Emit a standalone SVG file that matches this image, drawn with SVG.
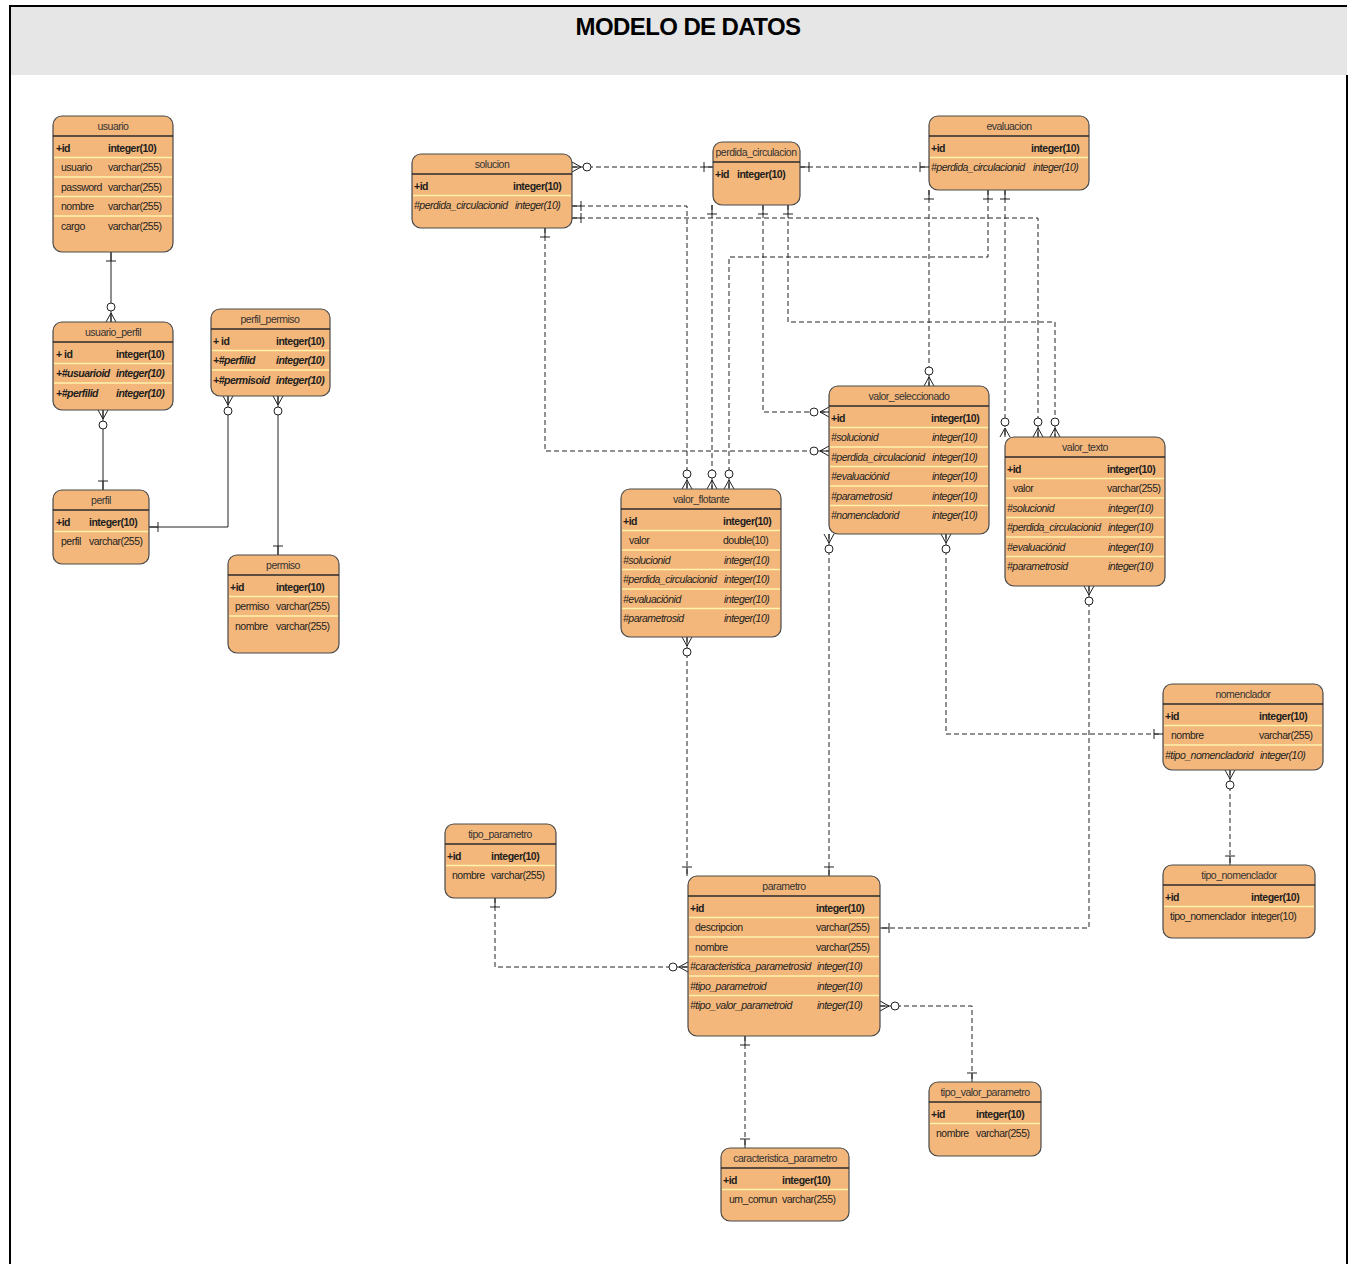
<svg xmlns="http://www.w3.org/2000/svg" width="1353" height="1264" viewBox="0 0 1353 1264">
<style>
.box{fill:#f3b77b;stroke:#4a4a4a;stroke-width:1.2}
.hl{stroke:#2a2a2a;stroke-width:1.5}
.sep{stroke:#fff3ad;stroke-width:1.5}
.t{font-family:"Liberation Sans",Arial,sans-serif;font-size:10.5px;fill:#1e1e1e;letter-spacing:-0.5px}
.h{text-anchor:middle;fill:#333}
.b{font-weight:bold}
.i{font-style:italic}
.c{fill:none;stroke:#222;stroke-width:1}
.d{stroke-dasharray:5,3}
.mk{fill:none;stroke:#222;stroke-width:1;stroke-dasharray:none}
</style>
<defs>
<marker id="many0" markerUnits="userSpaceOnUse" orient="auto-start-reverse" refX="0" refY="0" markerWidth="30" markerHeight="20" overflow="visible">
<path class="mk" d="M-9,0 L0,-5 M-9,0 L0,5 M-9,0 L0,0"/>
<circle cx="-15" cy="0" r="4" fill="#fff" stroke="#222" stroke-width="1"/>
</marker>
<marker id="one" markerUnits="userSpaceOnUse" orient="auto-start-reverse" refX="0" refY="0" markerWidth="30" markerHeight="20" overflow="visible">
<path class="mk" d="M-9,-5 L-9,5 M-9,0 L0,0"/>
</marker>
</defs>
<rect x="0" y="0" width="1353" height="1264" fill="#fff"/>
<g id="frame">
<rect x="10" y="6" width="1337" height="69" fill="#e6e6e6"/>
<path d="M9,6 H1347 M10,6 V1264 M1347,75 V1264" stroke="#000" stroke-width="2" fill="none"/>
<text x="688" y="35" text-anchor="middle" style="font-family:'Liberation Sans',Arial,sans-serif;font-size:24px;font-weight:bold;letter-spacing:-0.6px" fill="#000">MODELO DE DATOS</text>
</g>
<g id="connectors">
<path class="c" d="M111,252 V322" marker-start="url(#one)" marker-end="url(#many0)"/>
<path class="c" d="M103,410 V490" marker-start="url(#many0)" marker-end="url(#one)"/>
<path class="c" d="M149,527 H228 V396" marker-start="url(#one)" marker-end="url(#many0)"/>
<path class="c" d="M278,396 V555" marker-start="url(#many0)" marker-end="url(#one)"/>
<path class="c d" d="M572,167 H713" marker-start="url(#many0)" marker-end="url(#one)"/>
<path class="c d" d="M800,167 H929" marker-start="url(#one)" marker-end="url(#one)"/>
<path class="c d" d="M572,206 H687 V489" marker-start="url(#one)" marker-end="url(#many0)"/>
<path class="c d" d="M572,218 H1038 V437" marker-start="url(#one)" marker-end="url(#many0)"/>
<path class="c d" d="M712,205 V489" marker-start="url(#one)" marker-end="url(#many0)"/>
<path class="c d" d="M763,205 V412 H829" marker-start="url(#one)" marker-end="url(#many0)"/>
<path class="c d" d="M788,205 V322 H1055 V437" marker-start="url(#one)" marker-end="url(#many0)"/>
<path class="c d" d="M929,190 V386" marker-start="url(#one)" marker-end="url(#many0)"/>
<path class="c d" d="M988,190 V257 H729 V489" marker-start="url(#one)" marker-end="url(#many0)"/>
<path class="c d" d="M1005,190 V437" marker-start="url(#one)" marker-end="url(#many0)"/>
<path class="c d" d="M545,228 V451 H829" marker-start="url(#one)" marker-end="url(#many0)"/>
<path class="c d" d="M687,637 V876" marker-start="url(#many0)" marker-end="url(#one)"/>
<path class="c d" d="M829,534 V876" marker-start="url(#many0)" marker-end="url(#one)"/>
<path class="c d" d="M946,534 V734 H1163" marker-start="url(#many0)" marker-end="url(#one)"/>
<path class="c d" d="M1089,586 V928 H880" marker-start="url(#many0)" marker-end="url(#one)"/>
<path class="c d" d="M1230,770 V865" marker-start="url(#many0)" marker-end="url(#one)"/>
<path class="c d" d="M495,898 V967 H688" marker-start="url(#one)" marker-end="url(#many0)"/>
<path class="c d" d="M880,1006 H972 V1082" marker-start="url(#many0)" marker-end="url(#one)"/>
<path class="c d" d="M745,1036 V1148" marker-start="url(#one)" marker-end="url(#one)"/>
</g>

<g id="usuario">
<rect class="box" x="53" y="116" width="120" height="136" rx="9"/>
<line class="hl" x1="53" y1="136" x2="173" y2="136"/>
<path class="sep" d="M54,157.5 H172 M54,177 H172 M54,196.5 H172 M54,216 H172"/>
<text class="t h" x="113" y="130">usuario</text>
<text class="t b" x="56" y="151.5">+id</text><text class="t b" x="108" y="151.5">integer(10)</text>
<text class="t" x="61" y="171">usuario</text><text class="t" x="108" y="171">varchar(255)</text>
<text class="t" x="61" y="190.5">password</text><text class="t" x="108" y="190.5">varchar(255)</text>
<text class="t" x="61" y="210">nombre</text><text class="t" x="108" y="210">varchar(255)</text>
<text class="t" x="61" y="229.5">cargo</text><text class="t" x="108" y="229.5">varchar(255)</text>
</g>

<g id="usuario_perfil">
<rect class="box" x="53" y="322" width="120" height="88" rx="9"/>
<line class="hl" x1="53" y1="342" x2="173" y2="342"/>
<path class="sep" d="M54,363.5 H172 M54,383 H172"/>
<text class="t h" x="113" y="336">usuario_perfil</text>
<text class="t b" x="56" y="357.5">+ id</text><text class="t b" x="116" y="357.5">integer(10)</text>
<text class="t b i" x="56" y="377">+#usuarioid</text><text class="t b i" x="116" y="377">integer(10)</text>
<text class="t b i" x="56" y="396.5">+#perfilid</text><text class="t b i" x="116" y="396.5">integer(10)</text>
</g>

<g id="perfil_permiso">
<rect class="box" x="211" y="309" width="119" height="87" rx="9"/>
<line class="hl" x1="211" y1="329" x2="330" y2="329"/>
<path class="sep" d="M212,350.5 H329 M212,370 H329"/>
<text class="t h" x="270" y="323">perfil_permiso</text>
<text class="t b" x="213" y="344.5">+ id</text><text class="t b" x="276" y="344.5">integer(10)</text>
<text class="t b i" x="213" y="364">+#perfilid</text><text class="t b i" x="276" y="364">integer(10)</text>
<text class="t b i" x="213" y="383.5">+#permisoid</text><text class="t b i" x="276" y="383.5">integer(10)</text>
</g>

<g id="perfil">
<rect class="box" x="53" y="490" width="96" height="74" rx="9"/>
<line class="hl" x1="53" y1="510" x2="149" y2="510"/>
<path class="sep" d="M54,531.5 H148"/>
<text class="t h" x="101" y="504">perfil</text>
<text class="t b" x="56" y="525.5">+id</text><text class="t b" x="89" y="525.5">integer(10)</text>
<text class="t" x="61" y="545">perfil</text><text class="t" x="89" y="545">varchar(255)</text>
</g>

<g id="permiso">
<rect class="box" x="228" y="555" width="111" height="98" rx="9"/>
<line class="hl" x1="228" y1="575" x2="339" y2="575"/>
<path class="sep" d="M229,596.5 H338 M229,616 H338"/>
<text class="t h" x="283" y="569">permiso</text>
<text class="t b" x="230" y="590.5">+id</text><text class="t b" x="276" y="590.5">integer(10)</text>
<text class="t" x="235" y="610">permiso</text><text class="t" x="276" y="610">varchar(255)</text>
<text class="t" x="235" y="629.5">nombre</text><text class="t" x="276" y="629.5">varchar(255)</text>
</g>

<g id="solucion">
<rect class="box" x="412" y="154" width="160" height="74" rx="9"/>
<line class="hl" x1="412" y1="174" x2="572" y2="174"/>
<path class="sep" d="M413,195.5 H571"/>
<text class="t h" x="492" y="168">solucion</text>
<text class="t b" x="414" y="189.5">+id</text><text class="t b" x="513" y="189.5">integer(10)</text>
<text class="t i" x="414" y="209">#perdida_circulacionid</text><text class="t i" x="515" y="209">integer(10)</text>
</g>

<g id="perdida_circulacion">
<rect class="box" x="713" y="142" width="87" height="63" rx="9"/>
<line class="hl" x1="713" y1="162" x2="800" y2="162"/>
<text class="t h" x="756" y="156">perdida_circulacion</text>
<text class="t b" x="715" y="177.5">+id</text><text class="t b" x="737" y="177.5">integer(10)</text>
</g>

<g id="evaluacion">
<rect class="box" x="929" y="116" width="160" height="74" rx="9"/>
<line class="hl" x1="929" y1="136" x2="1089" y2="136"/>
<path class="sep" d="M930,157.5 H1088"/>
<text class="t h" x="1009" y="130">evaluacion</text>
<text class="t b" x="931" y="151.5">+id</text><text class="t b" x="1031" y="151.5">integer(10)</text>
<text class="t i" x="931" y="171">#perdida_circulacionid</text><text class="t i" x="1033" y="171">integer(10)</text>
</g>

<g id="valor_seleccionado">
<rect class="box" x="829" y="386" width="160" height="148" rx="9"/>
<line class="hl" x1="829" y1="406" x2="989" y2="406"/>
<path class="sep" d="M830,427.5 H988 M830,447 H988 M830,466.5 H988 M830,486 H988 M830,505.5 H988"/>
<text class="t h" x="909" y="400">valor_seleccionado</text>
<text class="t b" x="831" y="421.5">+id</text><text class="t b" x="931" y="421.5">integer(10)</text>
<text class="t i" x="831" y="441">#solucionid</text><text class="t i" x="932" y="441">integer(10)</text>
<text class="t i" x="831" y="460.5">#perdida_circulacionid</text><text class="t i" x="932" y="460.5">integer(10)</text>
<text class="t i" x="831" y="480">#evaluaciónid</text><text class="t i" x="932" y="480">integer(10)</text>
<text class="t i" x="831" y="499.5">#parametrosid</text><text class="t i" x="932" y="499.5">integer(10)</text>
<text class="t i" x="831" y="519">#nomencladorid</text><text class="t i" x="932" y="519">integer(10)</text>
</g>

<g id="valor_texto">
<rect class="box" x="1005" y="437" width="160" height="149" rx="9"/>
<line class="hl" x1="1005" y1="457" x2="1165" y2="457"/>
<path class="sep" d="M1006,478.5 H1164 M1006,498 H1164 M1006,517.5 H1164 M1006,537 H1164 M1006,556.5 H1164"/>
<text class="t h" x="1085" y="451">valor_texto</text>
<text class="t b" x="1007" y="472.5">+id</text><text class="t b" x="1107" y="472.5">integer(10)</text>
<text class="t" x="1013" y="492">valor</text><text class="t" x="1107" y="492">varchar(255)</text>
<text class="t i" x="1007" y="511.5">#solucionid</text><text class="t i" x="1108" y="511.5">integer(10)</text>
<text class="t i" x="1007" y="531">#perdida_circulacionid</text><text class="t i" x="1108" y="531">integer(10)</text>
<text class="t i" x="1007" y="550.5">#evaluaciónid</text><text class="t i" x="1108" y="550.5">integer(10)</text>
<text class="t i" x="1007" y="570">#parametrosid</text><text class="t i" x="1108" y="570">integer(10)</text>
</g>

<g id="valor_flotante">
<rect class="box" x="621" y="489" width="160" height="148" rx="9"/>
<line class="hl" x1="621" y1="509" x2="781" y2="509"/>
<path class="sep" d="M622,530.5 H780 M622,550 H780 M622,569.5 H780 M622,589 H780 M622,608.5 H780"/>
<text class="t h" x="701" y="503">valor_flotante</text>
<text class="t b" x="623" y="524.5">+id</text><text class="t b" x="723" y="524.5">integer(10)</text>
<text class="t" x="629" y="544">valor</text><text class="t" x="723" y="544">double(10)</text>
<text class="t i" x="623" y="563.5">#solucionid</text><text class="t i" x="724" y="563.5">integer(10)</text>
<text class="t i" x="623" y="583">#perdida_circulacionid</text><text class="t i" x="724" y="583">integer(10)</text>
<text class="t i" x="623" y="602.5">#evaluaciónid</text><text class="t i" x="724" y="602.5">integer(10)</text>
<text class="t i" x="623" y="622">#parametrosid</text><text class="t i" x="724" y="622">integer(10)</text>
</g>

<g id="nomenclador">
<rect class="box" x="1163" y="684" width="160" height="86" rx="9"/>
<line class="hl" x1="1163" y1="704" x2="1323" y2="704"/>
<path class="sep" d="M1164,725.5 H1322 M1164,745 H1322"/>
<text class="t h" x="1243" y="698">nomenclador</text>
<text class="t b" x="1165" y="719.5">+id</text><text class="t b" x="1259" y="719.5">integer(10)</text>
<text class="t" x="1171" y="739">nombre</text><text class="t" x="1259" y="739">varchar(255)</text>
<text class="t i" x="1165" y="758.5">#tipo_nomencladorid</text><text class="t i" x="1260" y="758.5">integer(10)</text>
</g>

<g id="tipo_nomenclador">
<rect class="box" x="1163" y="865" width="152" height="73" rx="9"/>
<line class="hl" x1="1163" y1="885" x2="1315" y2="885"/>
<path class="sep" d="M1164,906.5 H1314"/>
<text class="t h" x="1239" y="879">tipo_nomenclador</text>
<text class="t b" x="1165" y="900.5">+id</text><text class="t b" x="1251" y="900.5">integer(10)</text>
<text class="t" x="1170" y="920">tipo_nomenclador</text><text class="t" x="1251" y="920">integer(10)</text>
</g>

<g id="tipo_parametro">
<rect class="box" x="445" y="824" width="111" height="74" rx="9"/>
<line class="hl" x1="445" y1="844" x2="556" y2="844"/>
<path class="sep" d="M446,865.5 H555"/>
<text class="t h" x="500" y="838">tipo_parametro</text>
<text class="t b" x="447" y="859.5">+id</text><text class="t b" x="491" y="859.5">integer(10)</text>
<text class="t" x="452" y="879">nombre</text><text class="t" x="491" y="879">varchar(255)</text>
</g>

<g id="parametro">
<rect class="box" x="688" y="876" width="192" height="160" rx="9"/>
<line class="hl" x1="688" y1="896" x2="880" y2="896"/>
<path class="sep" d="M689,917.5 H879 M689,937 H879 M689,956.5 H879 M689,976 H879 M689,995.5 H879"/>
<text class="t h" x="784" y="890">parametro</text>
<text class="t b" x="690" y="911.5">+id</text><text class="t b" x="816" y="911.5">integer(10)</text>
<text class="t" x="695" y="931">descripcion</text><text class="t" x="816" y="931">varchar(255)</text>
<text class="t" x="695" y="950.5">nombre</text><text class="t" x="816" y="950.5">varchar(255)</text>
<text class="t i" x="690" y="970">#caracteristica_parametrosid</text><text class="t i" x="817" y="970">integer(10)</text>
<text class="t i" x="690" y="989.5">#tipo_parametroid</text><text class="t i" x="817" y="989.5">integer(10)</text>
<text class="t i" x="690" y="1009">#tipo_valor_parametroid</text><text class="t i" x="817" y="1009">integer(10)</text>
</g>

<g id="tipo_valor_parametro">
<rect class="box" x="929" y="1082" width="112" height="74" rx="9"/>
<line class="hl" x1="929" y1="1102" x2="1041" y2="1102"/>
<path class="sep" d="M930,1123.5 H1040"/>
<text class="t h" x="985" y="1096">tipo_valor_parametro</text>
<text class="t b" x="931" y="1117.5">+id</text><text class="t b" x="976" y="1117.5">integer(10)</text>
<text class="t" x="936" y="1137">nombre</text><text class="t" x="976" y="1137">varchar(255)</text>
</g>

<g id="caracteristica_parametro">
<rect class="box" x="721" y="1148" width="128" height="73" rx="9"/>
<line class="hl" x1="721" y1="1168" x2="849" y2="1168"/>
<path class="sep" d="M722,1189.5 H848"/>
<text class="t h" x="785" y="1162">caracteristica_parametro</text>
<text class="t b" x="723" y="1183.5">+id</text><text class="t b" x="782" y="1183.5">integer(10)</text>
<text class="t" x="729" y="1203">um_comun</text><text class="t" x="782" y="1203">varchar(255)</text>
</g>
</svg>
